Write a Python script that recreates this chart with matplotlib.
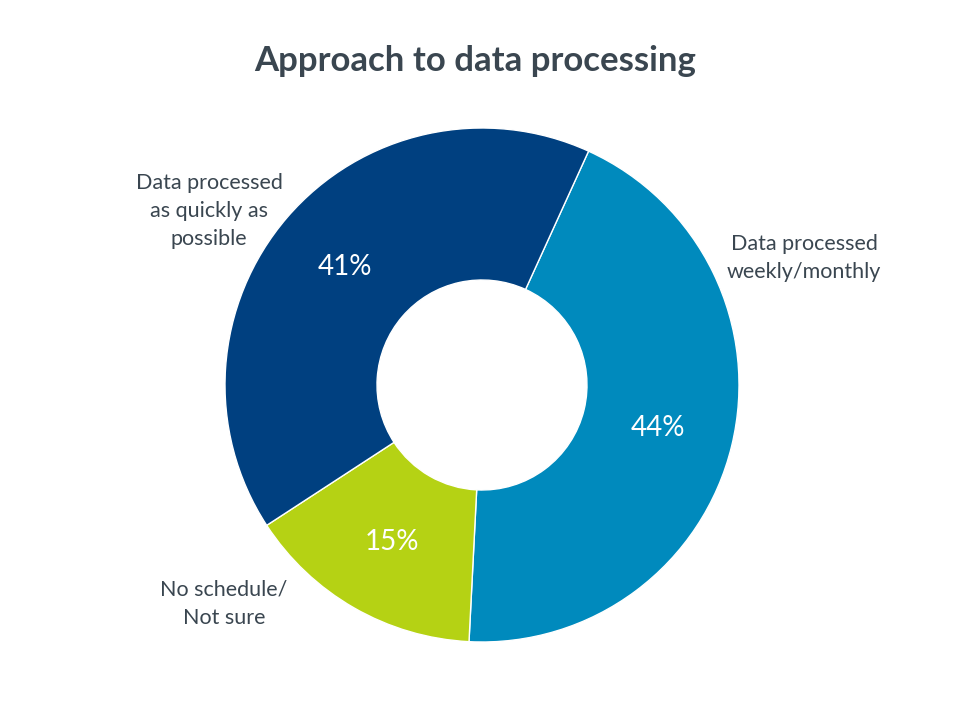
import matplotlib.pyplot as plt

plt.rcParams['font.family'] = ['Lato', 'DejaVu Sans']

categories = ["Data processed\nweekly/monthly", "No schedule/\nNot sure",
              "Data processed\nas quickly as\npossible"]
shares = [44, 15, 41]
colors = ["#008ABD", "#B5D214", "#004080"]
text_color = "#3A4650"

fig = plt.figure(figsize=(9.6, 7.2), dpi=100)
ax = fig.add_axes([0, 0, 1, 1])

# center in pixel coords (y flipped since origin is bottom-left)
cx, cy = 482, 720 - 385
r_out, r_in = 257, 105

wedges, _, pcts = ax.pie(
    shares, colors=colors, center=(cx, cy), radius=r_out,
    startangle=65.5, counterclock=False,
    autopct=lambda p: f"{p:.0f}%", pctdistance=(r_out + r_in) / 2 / r_out,
    wedgeprops=dict(width=r_out - r_in, edgecolor="white", linewidth=1),
    textprops=dict(color="white", fontsize=20),
    frame=True,
)
ax.set_xlim(0, 960)
ax.set_ylim(0, 720)
ax.set_aspect("equal")
ax.axis("off")

# category labels placed beside their slices
label_pos = [(804, 258), (224, 604), (209, 211)]
for name, (x, y) in zip(categories, label_pos):
    ax.text(x, 720 - y, name, ha="center", va="center", fontsize=15.5,
            color=text_color, linespacing=1.5)

ax.text(475, 720 - 61, "Approach to data processing", ha="center", va="center",
        fontsize=25, fontweight="bold", color=text_color)

fig.savefig("out.png", dpi=100)
